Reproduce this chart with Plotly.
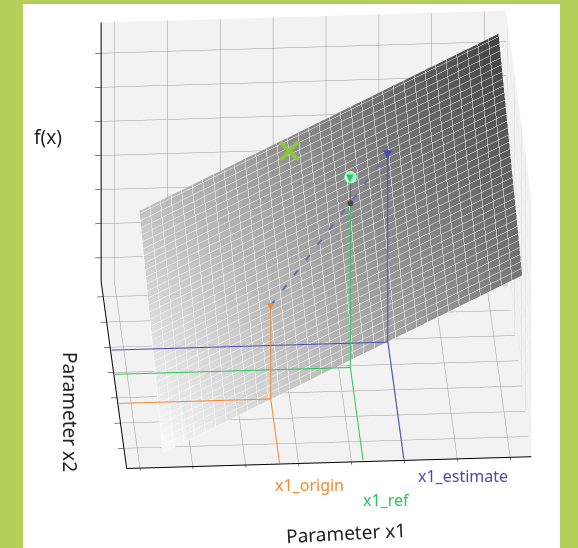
import numpy as np
import plotly.graph_objects as go

# Axis extents
x1_range = [-3.25, 4.4]
x2_range = [-3.8, 3.6]
f_range = [-0.7, 6.9]

# Linear model surface: f = c0 + c1*x1 + c2*x2
plane_coef = [2.28, 0.72, 0.29]
surf_x1 = [-2.54, 4.25]
surf_x2 = [-3.43, 3.45]

# Points
x1_origin, x2_origin, f_origin = -0.36, -1.25, 2.06
x1_ref, x2_ref, f_ref_lin, f_ref = 1.22, -0.1, 4.14, 4.91
x1_estimate, x2_estimate, f_estimate = 1.99, 0.86, 4.85
target = [0.2, 2.0, 4.17]

ORANGE = "#f28a30"
GREEN = "#2fc25b"
BLUE = "#4b4bb0"
LIME = "#8cc63f"

g1 = np.linspace(surf_x1[0], surf_x1[1], 40)
g2 = np.linspace(surf_x2[0], surf_x2[1], 40)
G1, G2 = np.meshgrid(g1, g2)
F = plane_coef[0] + plane_coef[1] * G1 + plane_coef[2] * G2

fig = go.Figure()
fig.add_trace(go.Surface(
    x=g1, y=g2, z=F, showscale=False, opacity=0.88,
    colorscale=[[0, "#ffffff"], [1, "#2e2e2e"]], cmin=-0.7, cmax=6.17,
    lighting=dict(ambient=1, diffuse=0, specular=0, fresnel=0),
    contours=dict(
        x=dict(show=True, start=surf_x1[0], end=surf_x1[1], size=0.2, color="rgba(255,255,255,0.12)", width=1),
        y=dict(show=True, start=surf_x2[0], end=surf_x2[1], size=0.2, color="rgba(255,255,255,0.12)", width=1),
    ),
    hoverinfo="skip",
))

# guide lines sit just inside the box walls
zb = f_range[0] + 0.02
x1a = x1_range[0] + 0.02
x2a = x2_range[0] + 0.02

# Guides and markers live in an overlay scene so they are painted over the surface
OV = "scene2"


def guide(x1v, x2v, ftop, color):
    # floor lines to the two axes plus the vertical drop
    fig.add_trace(go.Scatter3d(x=[x1a, x1v, x1v], y=[x2v, x2v, x2a], z=[zb, zb, zb], scene=OV,
                               mode="lines", line=dict(color=color, width=2), hoverinfo="skip"))
    fig.add_trace(go.Scatter3d(x=[x1v, x1v], y=[x2v, x2v], z=[zb, ftop], scene=OV,
                               mode="lines", line=dict(color=color, width=2), hoverinfo="skip"))


guide(x1_origin, x2_origin, f_origin, ORANGE)
guide(x1_ref, x2_ref, f_ref_lin, GREEN)
guide(x1_estimate, x2_estimate, f_estimate, BLUE)

# dashed path origin -> estimate
fig.add_trace(go.Scatter3d(x=[x1_origin, x1_estimate], y=[x2_origin, x2_estimate], z=[f_origin, f_estimate],
                           scene=OV, mode="lines", line=dict(color="#6a6aae", width=4, dash="longdash"),
                           hoverinfo="skip"))
# ref connection
fig.add_trace(go.Scatter3d(x=[x1_ref, x1_ref], y=[x2_ref, x2_ref], z=[f_ref_lin, f_ref], scene=OV,
                           mode="lines", line=dict(color="#444444", width=1), hoverinfo="skip"))
fig.add_trace(go.Scatter3d(x=[x1_ref], y=[x2_ref], z=[f_ref], mode="markers", scene=OV,
                           marker=dict(size=7, color="rgba(47,194,91,0.22)"), hoverinfo="skip"))
fig.add_trace(go.Scatter3d(x=[x1_ref], y=[x2_ref], z=[f_ref_lin], mode="markers", scene=OV,
                           marker=dict(size=3.5, color="#4a4a4a"), hoverinfo="skip"))
fig.add_trace(go.Scatter3d(x=[target[0]], y=[target[1]], z=[target[2]], mode="markers", scene=OV,
                           marker=dict(size=4.5, color=LIME, symbol="x"), hoverinfo="skip"))

axis_common = dict(
    showbackground=True, backgroundcolor="#f2f2f2",
    gridcolor="#999999", gridwidth=1,
    showline=True, linecolor="black", linewidth=2,
    ticks="outside", ticklen=6, tickcolor="black", dtick=1,
    showticklabels=False, title=dict(text=""),
    zeroline=False, showspikes=False,
)
overlay_axis = dict(visible=False, showspikes=False)

dom = dict(x=[0.0, 1.0], y=[0.0, 1.0])
aspect = dict(x=1.48, y=1.48, z=1.066)
cam = dict(eye=dict(x=-0.195, y=-1.513, z=0.651), center=dict(x=-0.103, y=-0.052, z=-0.111),
           up=dict(x=0, y=0, z=1), projection=dict(type="orthographic"))

title_font = dict(size=19, color="#222")
fig.update_layout(
    width=578, height=548,
    margin=dict(l=0, r=0, t=0, b=0),
    paper_bgcolor="#b5d05a",
    showlegend=False,
    font=dict(family="Noto Sans, DejaVu Sans, sans-serif"),
    shapes=[dict(type="rect", xref="paper", yref="paper", x0=23 / 578, x1=560 / 578, y0=0, y1=1 - 4 / 548,
                 fillcolor="white", line=dict(width=0), layer="below")],
    scene=dict(
        domain=dom,
        xaxis=dict(range=x1_range, **axis_common),
        yaxis=dict(range=x2_range, **axis_common),
        zaxis=dict(range=f_range, **axis_common),
        aspectmode="manual", aspectratio=aspect, camera=cam,
        annotations=[
            dict(x=x1_origin, y=x2a, z=zb, text="x1_origin", showarrow=False, xanchor="left",
                 xshift=-6, yshift=-22, font=dict(color=ORANGE, size=16)),
            dict(x=x1_ref, y=x2a, z=zb, text="x1_ref", showarrow=False, xanchor="left",
                 xshift=-2, yshift=-40, font=dict(color=GREEN, size=16)),
            dict(x=x1_estimate, y=x2a, z=zb, text="x1_estimate", showarrow=False, xanchor="left",
                 xshift=12, yshift=-17, font=dict(color=BLUE, size=16)),
            dict(x=x1_origin, y=x2_origin, z=f_origin, text="▼", showarrow=False,
                 font=dict(color=ORANGE, size=9)),
            dict(x=x1_ref, y=x2_ref, z=f_ref, text="▼", showarrow=False,
                 font=dict(color=GREEN, size=10)),
            dict(x=x1_estimate, y=x2_estimate, z=f_estimate, text="▼", showarrow=False,
                 font=dict(color=BLUE, size=12)),
        ],
    ),
    scene2=dict(
        domain=dom, bgcolor="rgba(0,0,0,0)",
        xaxis=dict(range=x1_range, **overlay_axis),
        yaxis=dict(range=x2_range, **overlay_axis),
        zaxis=dict(range=f_range, **overlay_axis),
        aspectmode="manual", aspectratio=aspect, camera=cam,
    ),
    annotations=[
        dict(text="f(x)", x=48 / 578, y=1 - 137 / 548, xref="paper", yref="paper", showarrow=False,
             xanchor="center", yanchor="middle", font=title_font),
        dict(text="Parameter x2", x=70 / 578, y=1 - 412 / 548, xref="paper", yref="paper", showarrow=False,
             xanchor="center", yanchor="middle", textangle=90, font=title_font),
        dict(text="Parameter x1", x=346 / 578, y=1 - 533 / 548, xref="paper", yref="paper", showarrow=False,
             xanchor="center", yanchor="middle", textangle=-3, font=title_font),
    ],
)

fig.write_html("out.html")
